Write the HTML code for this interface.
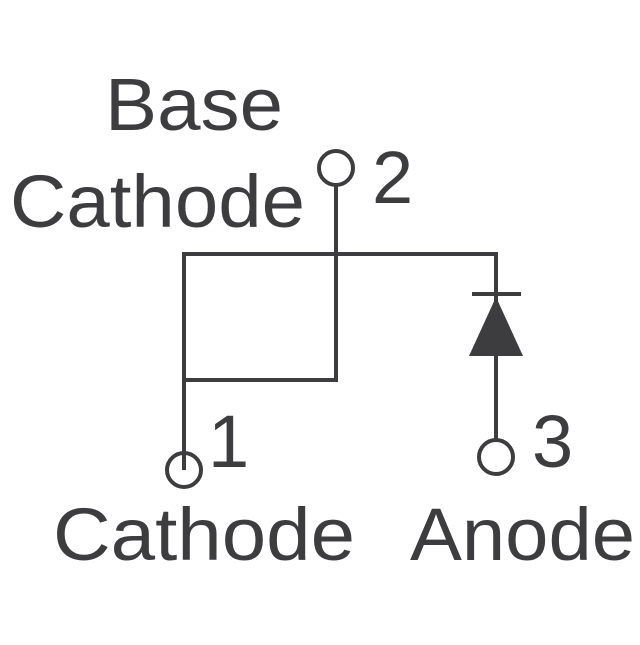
<!DOCTYPE html>
<html><head><style>html,body{margin:0;padding:0;background:#fff}</style></head>
<body>
<svg width="640" height="640" viewBox="0 0 640 640" xmlns="http://www.w3.org/2000/svg">
<g stroke="#3d3d3f" stroke-width="4" fill="none">
<polyline points="184,470 184,254 336,254 336,380 184,380"/>
<line x1="336" y1="186" x2="336" y2="254"/>
<polyline points="336,254 496,254 496,356"/>
<line x1="496" y1="356" x2="496" y2="439"/>
<line x1="184" y1="380" x2="184" y2="452"/>
<line x1="472" y1="294" x2="521" y2="294"/>
<circle cx="336" cy="168" r="17"/>
<circle cx="184" cy="470" r="17"/>
<circle cx="496" cy="457" r="17"/>
</g>
<polygon points="496,297 469,356 523,356" fill="#3d3d3f"/>
<g font-family="Liberation Sans, sans-serif" font-size="74" fill="#3d3d3f">
<text x="105" y="130" textLength="178" lengthAdjust="spacingAndGlyphs">Base</text>
<text x="10" y="227" textLength="295" lengthAdjust="spacingAndGlyphs">Cathode</text>
<text x="372" y="203">2</text>
<text x="208" y="467">1</text>
<text x="532" y="467">3</text>
<text x="53" y="560" textLength="302" lengthAdjust="spacingAndGlyphs">Cathode</text>
<text x="410" y="560" textLength="225" lengthAdjust="spacingAndGlyphs">Anode</text>
</g>
</svg>
</body></html>
